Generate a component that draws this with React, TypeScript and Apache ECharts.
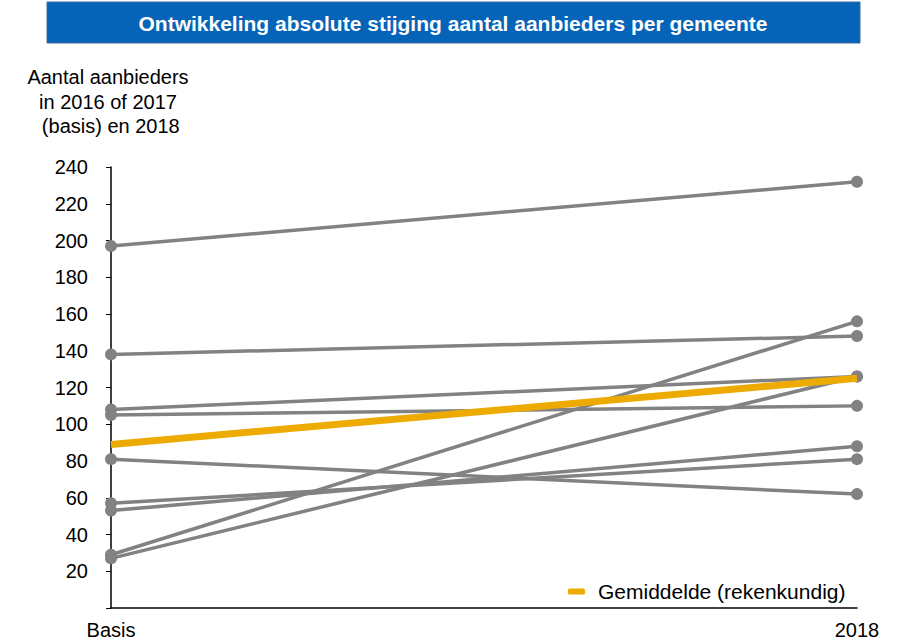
import React, { useEffect, useRef } from "react";
import * as echarts from "echarts";

const categories = ["Basis", "2018"];
const basisValues = [197, 138, 108, 105, 81, 57, 53, 29, 27];
const values2018 = [232, 148, 126, 110, 62, 81, 88, 156, 126];
const averageValues = [89, 125];
const averageName = "Gemiddelde (rekenkundig)";
const titleText = "Ontwikkeling absolute stijging aantal aanbieders per gemeente";
const yNameLines = ["Aantal aanbieders", "in 2016 of 2017", " (basis) en 2018"];

const FONT = "'Liberation Sans', Arial, sans-serif";

export default function App() {
  const ref = useRef<HTMLDivElement>(null);
  useEffect(() => {
    if (!ref.current) return;
    const chart = echarts.init(ref.current, undefined, { renderer: "svg" });
    const graySeries = basisValues.map((b, i) => ({
      name: "gemeente " + (i + 1),
      type: "line",
      data: [b, values2018[i]],
      symbol: "circle",
      symbolSize: 12,
      lineStyle: { color: "#828282", width: 3.5 },
      itemStyle: { color: "#828282" },
      z: 2,
    }));
    chart.setOption({
      animation: false,
      textStyle: { fontFamily: FONT },
      graphic: [
        {
          type: "rect",
          shape: { x: 47, y: 2, width: 813, height: 41 },
          style: { fill: "#0563B8", stroke: "#3C6E9E", lineWidth: 1 },
        },
        {
          type: "text",
          x: 453,
          y: 23,
          style: {
            text: titleText,
            fill: "#ffffff",
            font: "bold 21px " + FONT,
            textAlign: "center",
            textVerticalAlign: "middle",
          },
        },
        ...yNameLines.map((t, i) => ({
          type: "text",
          x: 108,
          y: 77 + i * 24.5,
          style: {
            text: t,
            fill: "#000000",
            font: "20px " + FONT,
            textAlign: "center",
            textVerticalAlign: "middle",
          },
        })),
      ],
      legend: {
        data: [averageName],
        left: 563,
        top: 576,
        icon: "roundRect",
        itemWidth: 17,
        itemHeight: 6,
        itemGap: 10,
        textStyle: { fontSize: 21, color: "#000", fontFamily: FONT, padding: [0, 0, 0, 8] },
      },
      grid: { left: 111, right: 42, top: 167, bottom: 31, containLabel: false },
      xAxis: {
        type: "category",
        data: categories,
        boundaryGap: false,
        axisLine: { lineStyle: { color: "#000", width: 1.5 } },
        axisTick: { show: false },
        axisLabel: { color: "#000", fontSize: 20, margin: 12, fontFamily: FONT },
      },
      yAxis: {
        type: "value",
        min: 0,
        max: 240,
        interval: 20,
        splitLine: { show: false },
        axisLine: { show: true, lineStyle: { color: "#000", width: 1.5 } },
        axisTick: { show: true, length: 5, lineStyle: { color: "#000" } },
        axisLabel: {
          color: "#000",
          fontSize: 20,
          margin: 23,
          fontFamily: FONT,
          formatter: (v: number) => (v === 0 ? "" : String(v)),
        },
      },
      series: [
        ...graySeries,
        {
          name: averageName,
          type: "line",
          data: averageValues,
          symbol: "none",
          lineStyle: { color: "#EDAA00", width: 7 },
          itemStyle: { color: "#EDAA00" },
          z: 5,
        },
      ],
    });
    return () => chart.dispose();
  }, []);
  return (
    <div
      ref={ref}
      style={{ position: "fixed", left: 0, top: 0, width: 899, height: 640, background: "#fff" }}
    />
  );
}
